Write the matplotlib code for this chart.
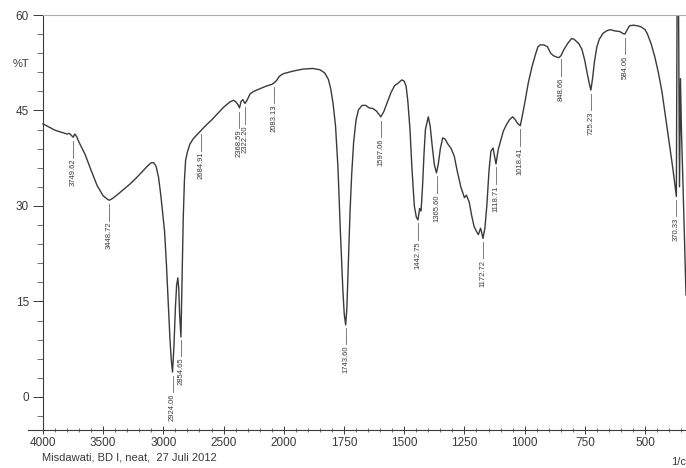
import numpy as np
import matplotlib
matplotlib.use("Agg")
import matplotlib.pyplot as plt
from matplotlib import font_manager
from matplotlib.ticker import FixedLocator

# FTIR spectrum (wavenumber 1/cm, %T)
wavenumber = [
    4000, 3950, 3900, 3850, 3800, 3780, 3760, 3749, 3735, 3720, 3700, 3650,
    3600, 3550, 3500, 3460, 3448, 3420, 3380, 3330, 3280, 3230, 3180, 3130,
    3100, 3080, 3060, 3040, 3020, 3005, 2990, 2975, 2960, 2945, 2935, 2924,
    2912, 2900, 2890, 2880, 2872, 2865, 2854, 2845, 2835, 2825, 2815, 2800,
    2780, 2750, 2710, 2685, 2650, 2600, 2550, 2500, 2450, 2420, 2400, 2380,
    2368, 2355, 2340, 2322, 2305, 2280, 2250, 2200, 2150, 2100, 2083, 2060,
    2040, 2020, 2000, 1960, 1920, 1880, 1850, 1830, 1815, 1805, 1795, 1785,
    1775, 1765, 1755, 1749, 1743, 1738, 1732, 1725, 1718, 1710, 1700, 1690,
    1675, 1660, 1645, 1630, 1615, 1605, 1597, 1585, 1570, 1555, 1540, 1525,
    1510, 1500, 1492, 1485, 1476, 1468, 1458, 1450, 1443, 1436, 1430, 1424,
    1418, 1412, 1400, 1392, 1384, 1375, 1366, 1358, 1350, 1340, 1330, 1320,
    1305, 1292, 1280, 1265, 1250, 1242, 1230, 1220, 1210, 1200, 1192, 1183,
    1178, 1173, 1165, 1157, 1148, 1140, 1131, 1125, 1119, 1110, 1100, 1088,
    1075, 1062, 1050, 1040, 1030, 1018, 1008, 998, 985, 970, 955, 945, 935,
    920, 905, 892, 880, 868, 858, 849, 838, 820, 805, 795, 775, 762, 750, 740,
    732, 725, 718, 710, 700, 690, 675, 660, 645, 625, 605, 592, 584, 575, 565,
    550, 530, 515, 500, 490, 475, 460, 445, 430, 415, 400, 385, 375, 370, 367,
    361, 357, 353, 349, 340, 330,
]
transmittance = [
    42.9, 42.4, 41.9, 41.6, 41.3, 41.4, 41.0, 40.8, 41.3, 40.9, 40.0, 38.1,
    35.6, 33.2, 31.6, 31.0, 30.9, 31.2, 31.8, 32.6, 33.4, 34.3, 35.3, 36.3,
    36.8, 36.8, 36.2, 34.5, 31.5, 28.8, 26.0, 21.0, 15.0, 9.0, 6.0, 3.9,
    8.0, 14.0, 17.5, 18.7, 17.0, 13.0, 9.4, 18.0, 28.0, 34.0, 37.2, 38.5,
    39.7, 40.6, 41.4, 41.9, 42.6, 43.5, 44.5, 45.5, 46.3, 46.6, 46.4, 45.9,
    45.4, 46.4, 46.7, 46.1, 46.6, 47.6, 48.0, 48.4, 48.8, 49.1, 49.3, 49.7,
    50.3, 50.6, 50.8, 51.2, 51.5, 51.6, 51.4, 50.9, 49.9, 48.4, 46.0, 42.5,
    36.0, 26.0, 17.0, 13.0, 11.3, 14.0, 21.0, 29.0, 35.0, 40.0, 43.5, 45.1,
    45.8, 45.8, 45.4, 45.3, 44.9, 44.4, 44.0, 44.8, 46.3, 47.8, 48.9, 49.3,
    49.8, 49.6, 48.8, 46.5, 42.0, 36.0, 30.0, 28.3, 27.8, 29.6, 29.2, 33.0,
    38.0, 42.0, 44.0, 42.5, 39.5, 36.5, 35.2, 36.7, 39.0, 40.7, 40.5, 39.8,
    39.0, 37.8, 35.5, 33.0, 31.3, 31.7, 30.6, 28.5, 26.8, 26.0, 25.5, 26.5,
    25.8, 24.9, 26.5, 30.0, 35.5, 38.6, 39.1, 37.8, 36.6, 38.8, 40.2, 41.8,
    42.8, 43.6, 44.0, 43.6, 43.0, 42.6, 44.5, 46.5, 49.3, 51.8, 53.8, 55.0,
    55.3, 55.3, 55.0, 54.0, 53.6, 53.4, 53.3, 53.6, 54.5, 55.6, 56.3, 56.2,
    55.5, 54.6, 52.8, 50.8, 49.3, 48.2, 50.0, 52.7, 55.0, 56.2, 57.1, 57.5,
    57.7, 57.5, 57.4, 57.1, 57.0, 57.6, 58.3, 58.4, 58.3, 58.1, 57.7, 57.0,
    55.5, 53.5, 51.0, 48.0, 44.0, 40.0, 36.0, 33.0, 31.5, 62.0, 62.0, 33.0,
    50.0, 42.0, 30.0, 16.0,
]

peak_labels = [
    "3749.62", "3448.72", "2924.06", "2854.65", "2684.91", "2368.59",
    "2322.20", "2083.13", "1743.60", "1597.06", "1442.75", "1365.60",
    "1172.72", "1118.71", "1018.41", "848.66", "725.23", "584.06", "370.33",
]

x_ticks = [4000, 3500, 3000, 2500, 2000, 1750, 1500, 1250, 1000, 750, 500]
y_ticks = [0, 15, 30, 45, 60]


def fwd(w):
    # Shimadzu chart: 4000-2000 drawn at half the scale of 2000-400
    w = np.asarray(w, dtype=float)
    return np.where(w >= 2000, (w - 4000) / 2.0, (w - 2000) - 1000)


def inv(u):
    u = np.asarray(u, dtype=float)
    return np.where(u >= -1000, 4000 + 2.0 * u, u + 3000)


names = {f.name for f in font_manager.fontManager.ttflist}
family = "Liberation Sans Narrow" if "Liberation Sans Narrow" in names else "Liberation Sans"
plt.rcParams["font.family"] = family

ink = "#3a3a3a"
fig = plt.figure(figsize=(6.86, 4.68), dpi=100)
ax = fig.add_axes([28 / 686, 1 - 430 / 468, 658 / 686, 415 / 468])

ax.set_xscale("function", functions=(fwd, inv))
ax.plot(wavenumber, transmittance, color=ink, lw=1.0)
ax.set_xlim(4124, 330)
ax.set_ylim(-5.2, 60)

# peak labels
w_sorted = np.array(wavenumber[::-1], dtype=float)
t_sorted = np.array(transmittance[::-1], dtype=float)
for lab in peak_labels:
    w = float(lab)
    yp = np.interp(w, w_sorted, t_sorted)
    ax.plot([w, w], [yp - 0.6, yp - 3.2], color="#666666", lw=0.6)
    ax.text(w, yp - 3.4, lab, rotation=90, ha="center", va="top",
            fontsize=5.5, color=ink)

# axes styling
ax.spines["right"].set_visible(False)
ax.spines["top"].set_color("#b0b0b0")
ax.spines["top"].set_bounds(4000, 330)
ax.spines["left"].set_position(("data", 4000))
ax.spines["left"].set_color(ink)
ax.spines["bottom"].set_color(ink)
ax.spines["left"].set_linewidth(0.8)
ax.spines["bottom"].set_linewidth(0.8)

ax.xaxis.set_major_locator(FixedLocator(x_ticks))
ax.xaxis.set_minor_locator(FixedLocator(
    list(range(3900, 2000, -100)) + list(range(1950, 330, -50))))
ax.set_xticklabels([str(t) for t in x_ticks])
ax.yaxis.set_major_locator(FixedLocator(y_ticks))
ax.yaxis.set_minor_locator(FixedLocator(list(range(-3, 60, 3))))
ax.tick_params(axis="x", which="major", direction="inout", length=6,
               width=0.7, colors=ink, labelsize=8.5, pad=2)
ax.tick_params(axis="x", which="minor", direction="inout", length=3,
               width=0.5, colors=ink)
ax.tick_params(axis="y", which="major", direction="out", length=7,
               width=0.7, colors=ink, labelsize=8.5, pad=3)
ax.tick_params(axis="y", which="minor", direction="out", length=4,
               width=0.5, colors=ink)

fig.text(13 / 686, 1 - 64 / 468, "%T", fontsize=8, color=ink, va="center")
fig.text(42 / 686, 1 - 457 / 468, "Misdawati, BD I, neat,  27 Juli 2012",
         fontsize=8, color=ink, va="center")
fig.text(671 / 686, 1 - 462 / 468, "1/c", fontsize=8, color=ink, va="center")

fig.savefig("out.png", dpi=100)
